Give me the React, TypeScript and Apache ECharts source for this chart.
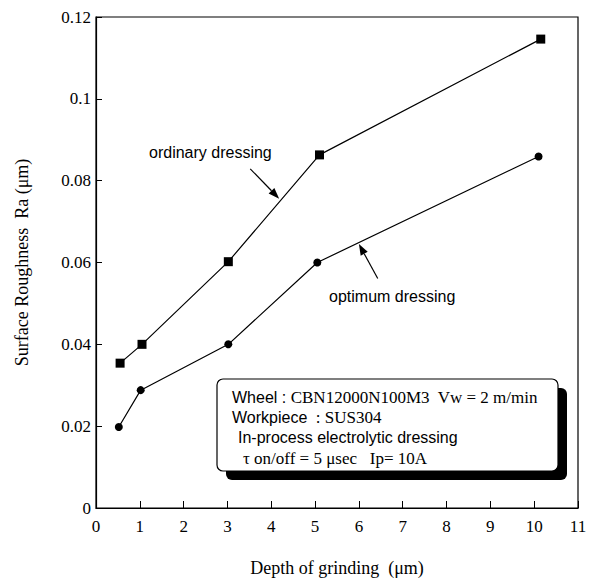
import React, { useEffect, useRef } from "react";
import * as echarts from "echarts";

const ordinaryX = [0.55, 1.05, 3.02, 5.1, 10.15];
const ordinaryY = [0.0354, 0.040, 0.0602, 0.0863, 0.1146];
const optimumX = [0.52, 1.02, 3.02, 5.05, 10.1];
const optimumY = [0.0198, 0.0288, 0.040, 0.060, 0.0859];

const xTicks = [0, 1, 2, 3, 4, 5, 6, 7, 8, 9, 10, 11];
const yTickStep = 0.02;
const yMax = 0.12;

const SERIF = "Liberation Serif";
const SANS = "Liberation Sans";

function arrow(x1: number, y1: number, x2: number, y2: number) {
  const dx = x2 - x1, dy = y2 - y1;
  const len = Math.hypot(dx, dy);
  const ux = dx / len, uy = dy / len;
  const hl = 11, hw = 4;
  const bx = x2 - ux * hl, by = y2 - uy * hl;
  return [
    { type: "line", shape: { x1, y1, x2: bx, y2: by }, style: { stroke: "#000", lineWidth: 1.2 } },
    {
      type: "polygon",
      shape: { points: [[x2, y2], [bx - uy * hw, by + ux * hw], [bx + uy * hw, by - ux * hw]] },
      style: { fill: "#000" },
    },
  ];
}

export default function App() {
  const ref = useRef<HTMLDivElement>(null);
  useEffect(() => {
    if (!ref.current) return;
    const chart = echarts.init(ref.current, null, { renderer: "svg" });
    const option: any = {
      animation: false,
      backgroundColor: "#fff",
      textStyle: { fontFamily: SERIF, color: "#000" },
      grid: { left: 96, right: 15, top: 17, bottom: 76, show: true, borderColor: "#000", borderWidth: 1.2, backgroundColor: "transparent" },
      xAxis: {
        type: "value",
        min: xTicks[0],
        max: xTicks[xTicks.length - 1],
        interval: 1,
        name: "Depth of grinding  (μm)",
        nameLocation: "middle",
        nameGap: 51,
        nameTextStyle: { fontFamily: SERIF, fontSize: 18, color: "#000" },
        axisLine: { lineStyle: { color: "#000", width: 1.2 } },
        axisTick: { inside: true, length: 7, lineStyle: { color: "#000" } },
        axisLabel: { fontFamily: SERIF, fontSize: 17, color: "#000", margin: 10 },
        splitLine: { show: false },
      },
      yAxis: {
        type: "value",
        min: 0,
        max: yMax,
        interval: yTickStep,
        name: "Surface Roughness  Ra (μm)",
        nameLocation: "middle",
        nameGap: 65,
        nameTextStyle: { fontFamily: SERIF, fontSize: 18, color: "#000" },
        axisLine: { lineStyle: { color: "#000", width: 1.2 } },
        axisTick: { inside: true, length: 6, lineStyle: { color: "#000" } },
        axisLabel: { fontFamily: SERIF, fontSize: 17, color: "#000", margin: 5 },
        splitLine: { show: false },
      },
      series: [
        {
          name: "ordinary dressing",
          type: "line",
          data: ordinaryX.map((x, i) => [x, ordinaryY[i]]),
          symbol: "rect",
          symbolSize: 9,
          itemStyle: { color: "#000" },
          lineStyle: { color: "#000", width: 1.2 },
        },
        {
          name: "optimum dressing",
          type: "line",
          data: optimumX.map((x, i) => [x, optimumY[i]]),
          symbol: "circle",
          symbolSize: 8,
          itemStyle: { color: "#000" },
          lineStyle: { color: "#000", width: 1.2 },
        },
      ],
    };
    chart.setOption(option);

    const p = (x: number, y: number) => chart.convertToPixel({ gridIndex: 0 }, [x, y]) as number[];
    const a1t = p(3.52, 0.0829), a1h = p(4.18, 0.0756);
    const a2t = p(6.43, 0.0561), a2h = p(6.0, 0.0645);

    const boxX = 217, boxY = 379, boxW = 341, boxH = 92;
    chart.setOption({
      graphic: [
        ...arrow(a1t[0], a1t[1], a1h[0], a1h[1]),
        ...arrow(a2t[0], a2t[1], a2h[0], a2h[1]),
        {
          type: "text",
          x: 149,
          y: 152,
          style: { text: "ordinary dressing", font: `16px ${SANS}`, fill: "#000", textVerticalAlign: "middle" },
        },
        {
          type: "text",
          x: 329,
          y: 296,
          style: { text: "optimum dressing", font: `16px ${SANS}`, fill: "#000", textVerticalAlign: "middle" },
        },
        { type: "rect", shape: { x: boxX + 9, y: boxY + 9, width: boxW, height: boxH, r: 6 }, style: { fill: "#000" } },
        { type: "rect", shape: { x: boxX, y: boxY, width: boxW, height: boxH, r: 6 }, style: { fill: "#fff", stroke: "#000", lineWidth: 1.2 } },
        {
          type: "text",
          x: 232,
          y: 397,
          style: {
            text: "{s|Wheel : }{r|CBN12000N100M3  Vw = 2 m/min}",
            textVerticalAlign: "middle",
            rich: { s: { fontFamily: SANS, fontSize: 16, fill: "#000" }, r: { fontFamily: SERIF, fontSize: 17, fill: "#000" } },
          },
        },
        {
          type: "text",
          x: 232,
          y: 417,
          style: {
            text: "{s|Workpiece}{r|  : SUS304}",
            textVerticalAlign: "middle",
            rich: { s: { fontFamily: SANS, fontSize: 16, fill: "#000" }, r: { fontFamily: SERIF, fontSize: 17, fill: "#000" } },
          },
        },
        {
          type: "text",
          x: 238,
          y: 437,
          style: { text: "In-process electrolytic dressing", font: `16px ${SANS}`, fill: "#000", textVerticalAlign: "middle" },
        },
        {
          type: "text",
          x: 243,
          y: 458,
          style: { text: "τ on/off = 5 μsec   Ip= 10A", font: `17px ${SERIF}`, fill: "#000", textVerticalAlign: "middle" },
        },
      ],
    });
    return () => chart.dispose();
  }, []);
  return <div ref={ref} style={{ position: "absolute", left: 0, top: 0, width: 593, height: 584 }} />;
}
